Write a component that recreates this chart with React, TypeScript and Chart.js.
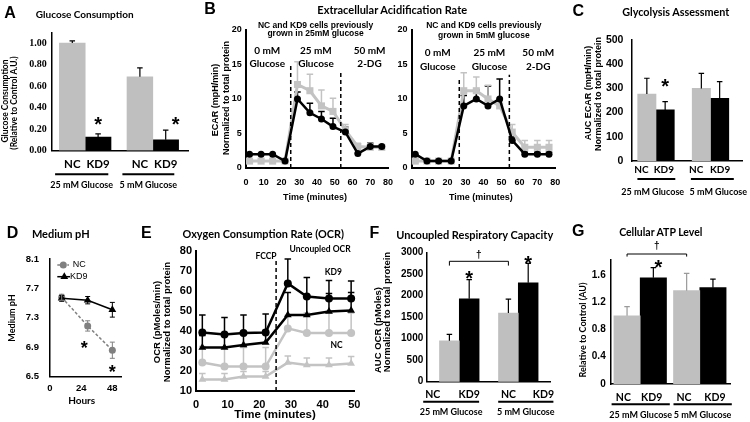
import React, { useEffect, useRef } from 'react';
import { Chart, registerables } from 'chart.js';

Chart.register(...registerables);

/* ===================== DATA ===================== */
const barGroups = ['25 mM Glucose', '5 mM Glucose'];
const seriesNames = ['NC', 'KD9'];

// A. Glucose consumption (relative to control A.U.)
const glucoseNC = [1.0, 0.686];
const glucoseNCErr = [0.02, 0.083];
const glucoseKD9 = [0.126, 0.1];
const glucoseKD9Err = [0.028, 0.09];
const glucoseTicks = [0, 0.2, 0.4, 0.6, 0.8, 1.0];

// B. Extracellular acidification rate (mpH/min)
const ecarTimes = [2, 8.5, 15, 22, 29, 36, 42.5, 49, 56, 63, 70, 76.5];
const ecarNC25 = [1.0, 1.0, 1.0, 1.0, 12.1, 11.2, 9.0, 8.2, 5.5, 3.1, 3.0, 3.0];
const ecarNC25Err = [0.3, 0.3, 0.3, 0.3, 3.3, 2.4, 2.3, 1.9, 0.8, 0.5, 0.5, 0.3];
const ecarKD925 = [2.0, 2.0, 2.0, 1.0, 10.0, 8.0, 7.1, 6.0, 5.2, 2.1, 3.1, 3.1];
const ecarKD925Err = [0, 0, 0, 0, 1.0, 1.4, 1.1, 1.2, 0.7, 0, 0.5, 0];
const ecarNC5 = [1.0, 1.0, 1.0, 1.0, 11.2, 11.2, 10.0, 9.0, 5.2, 3.0, 3.0, 3.0];
const ecarNC5Err = [0.3, 0.3, 0.3, 0.3, 2.6, 2.0, 2.0, 1.0, 1.1, 1.0, 1.0, 1.0];
const ecarKD95 = [2.0, 1.0, 1.0, 1.0, 9.0, 10.0, 9.0, 10.0, 4.0, 2.0, 2.0, 2.0];
const ecarKD95Err = [0, 0, 0, 0, 1.5, 1.3, 2.9, 2.9, 0.5, 0.3, 0.3, 0.3];
const ecarTicksY = [0, 5, 10, 15, 20];
const ecarTicksX = [0, 10, 20, 30, 40, 50, 60, 70, 80];
const ecarInjections25 = [25.2, 53.4];
const ecarInjections5 = [26.5, 54.4];
const ecarPhases = [['0 mM', 'Glucose'], ['25 mM', 'Glucose'], ['50 mM', '2-DG']];

// C. Glycolysis assessment (AUC ECAR)
const glycoNC = [277, 300];
const glycoNCErr = [65, 62];
const glycoKD9 = [211, 259];
const glycoKD9Err = [34, 69];
const glycoTicks = [0, 100, 200, 300, 400, 500];

// D. Medium pH
const phHours = [9, 29, 48];
const phNC = [7.58, 7.19, 6.86];
const phNCErr = [0.04, 0.07, 0.11];
const phKD9 = [7.565, 7.54, 7.41];
const phKD9Err = [0.04, 0.05, 0.1];
const phTicksY = [6.5, 6.9, 7.3, 7.7, 8.1];
const phTicksX = [0, 24, 48];

// E. Oxygen consumption rate (pMoles/min)
const ocrTimes = [2, 9, 15, 22, 29, 35, 42, 49];
const ocrKD9Circle = [39.2, 38.2, 39.0, 39.2, 63.8, 57.2, 56.3, 56.3];
const ocrKD9CircleErr = [8.8, 8.6, 9.0, 9.3, 12.2, 9.5, 8.9, 8.7];
const ocrKD9Triangle = [31.8, 31.8, 33.0, 34.2, 48.0, 48.0, 49.7, 50.2];
const ocrKD9TriangleErr = [6, 6, 6, 6, 11.2, 9, 9, 9];
const ocrNCCircle = [24.3, 22.2, 22.2, 22.2, 41.3, 39.0, 39.0, 39.0];
const ocrNCCircleErr = [8, 9.5, 9.5, 9.5, 6.5, 10, 10, 10];
const ocrNCTriangle = [15.8, 15.8, 17.2, 17.2, 24.2, 23.0, 23.0, 23.8];
const ocrNCTriangleErr = [3, 3, 2.5, 2.5, 3.3, 3.5, 3.5, 3.5];
const ocrFCCP = 25.3;
const ocrTicksY = [10, 20, 30, 40, 50, 60, 70, 80];
const ocrTicksX = [0, 10, 20, 30, 40, 50];

// F. Uncoupled respiratory capacity (AUC OCR)
const urcNC = [953, 1597];
const urcNCErr = [147, 325];
const urcKD9 = [1930, 2302];
const urcKD9Err = [442, 450];
const urcTicks = [0, 500, 1000, 1500, 2000, 2500, 3000];

// G. Cellular ATP level
const atpNC = [1.0, 1.37];
const atpNCErr = [0.135, 0.254];
const atpKD9 = [1.56, 1.414];
const atpKD9Err = [0.147, 0.126];
const atpTicks = [0, 0.4, 0.8, 1.2, 1.6];

/* ===================== STYLE / LAYOUT ===================== */
const W = 750;
const H = 422;
const FS = '"Liberation Sans", Arial, sans-serif';
const FC = 'Lato, "Open Sans", sans-serif';
const FT = '"Liberation Serif", "Times New Roman", serif';
const GRAY = '#bfbfbf';
const LGRAY = '#c3c3c3';
const DGRAY = '#808080';

type Lay = { l: number; t: number; r: number; b: number; g1?: number; g2?: number; bar?: number };

const layA: Lay = { l: 51.7, t: 32.3, r: 188.3, b: 150.5, g1: 85.2, g2: 152.8, bar: 25.8 };
const layB1: Lay = { l: 246, t: 30, r: 388, b: 168 };
const layB2: Lay = { l: 411.7, t: 30, r: 555.3, b: 168 };
const layC: Lay = { l: 631.7, t: 40, r: 742, b: 161, g1: 656, g2: 710.5, bar: 18.3 };
const layD: Lay = { l: 50, t: 259, r: 121.7, b: 376.7 };
const layE: Lay = { l: 196, t: 251, r: 354.3, b: 391 };
const layF: Lay = { l: 426.7, t: 252.7, r: 550.7, b: 381.7, g1: 459.3, g2: 518.3, bar: 19.8 };
const layG: Lay = { l: 610.7, t: 260, r: 730, b: 384, g1: 640.2, g2: 699.8, bar: 26.3 };

const padOf = (p: Lay) => ({ left: 0, top: p.t, right: W - p.r, bottom: 0 });

/* ===================== PLUGINS ===================== */
function errorBarsPlugin(o: { before?: boolean; both?: boolean; cap: number; width: number }) {
  const draw = (chart: any) => {
    const ctx = chart.ctx;
    const ys = chart.scales.y;
    ctx.save();
    chart.data.datasets.forEach((ds: any, di: number) => {
      if (!ds.errors) return;
      const meta = chart.getDatasetMeta(di);
      meta.data.forEach((el: any, i: number) => {
        const e = ds.errors[i];
        if (!e) return;
        const v = ds.data[i].y;
        const x = el.x;
        const top = ys.getPixelForValue(v + e);
        const bot = o.both ? ys.getPixelForValue(v - e) : el.y;
        ctx.strokeStyle = ds.errorColor || '#000';
        ctx.lineWidth = o.width;
        ctx.setLineDash([]);
        ctx.beginPath();
        ctx.moveTo(x, bot);
        ctx.lineTo(x, top);
        ctx.moveTo(x - o.cap / 2, top);
        ctx.lineTo(x + o.cap / 2, top);
        if (o.both) {
          ctx.moveTo(x - o.cap / 2, bot);
          ctx.lineTo(x + o.cap / 2, bot);
        }
        ctx.stroke();
      });
    });
    ctx.restore();
  };
  return {
    id: 'errorBars',
    beforeDatasetsDraw(chart: any) {
      if (o.before) draw(chart);
    },
    afterDatasetsDraw(chart: any) {
      if (!o.before) draw(chart);
    },
  };
}

function barLabelsPlugin(o: any) {
  return {
    id: 'barLabels',
    afterDraw(chart: any) {
      const ctx = chart.ctx;
      const bottom = chart.chartArea.bottom;
      ctx.save();
      ctx.fillStyle = '#000';
      ctx.strokeStyle = '#000';
      ctx.textAlign = 'center';
      ctx.textBaseline = 'middle';
      chart.data.labels.forEach((g: string, gi: number) => {
        let left = Infinity;
        let right = -Infinity;
        chart.data.datasets.forEach((ds: any, di: number) => {
          const el: any = chart.getDatasetMeta(di).data[gi];
          left = Math.min(left, el.x - el.width / 2);
          right = Math.max(right, el.x + el.width / 2);
          ctx.font = o.labelFont;
          const sh = o.shifts ? o.shifts[gi][di] : 0;
          ctx.fillText(ds.label, el.x + sh, bottom + o.labelDy);
        });
        const ul = left - o.pads[gi][0];
        const ur = right + o.pads[gi][1];
        ctx.lineWidth = o.lineWidth;
        ctx.beginPath();
        ctx.moveTo(ul, bottom + o.underlineDy);
        ctx.lineTo(ur, bottom + o.underlineDy);
        ctx.stroke();
        ctx.font = o.groupFont;
        const gs = o.groupShift ? o.groupShift[gi] : 0;
        ctx.fillText(g, (ul + ur) / 2 + gs, bottom + o.groupDy);
      });
      ctx.restore();
    },
  };
}

function drawMarker(ctx: any, style: string, x: number, y: number, r: number, color: string) {
  ctx.fillStyle = color;
  ctx.beginPath();
  if (style === 'triangle') {
    for (let k = 0; k < 3; k++) {
      const a = (k * 2 * Math.PI) / 3;
      const px = x + Math.sin(a) * r;
      const py = y - Math.cos(a) * r;
      if (k === 0) ctx.moveTo(px, py);
      else ctx.lineTo(px, py);
    }
    ctx.closePath();
  } else if (style === 'rect') {
    const s = r * Math.SQRT1_2;
    ctx.rect(x - s, y - s, 2 * s, 2 * s);
  } else {
    ctx.arc(x, y, r, 0, Math.PI * 2);
  }
  ctx.fill();
}

function annotPlugin(items: any[]) {
  return {
    id: 'annot',
    afterDraw(chart: any) {
      const ctx = chart.ctx;
      const xs = chart.scales.x;
      const ys = chart.scales.y;
      const ca = chart.chartArea;
      const barX = (r: number[]) => chart.getDatasetMeta(r[0]).data[r[1]].x;
      ctx.save();
      for (const it of items) {
        const col = it.color || '#000';
        ctx.fillStyle = col;
        ctx.strokeStyle = col;
        ctx.setLineDash([]);
        if (it.type === 'text') {
          const x = (it.bar ? barX(it.bar) : xs.getPixelForValue(it.x)) + (it.dx || 0);
          const y = ys.getPixelForValue(it.y);
          ctx.font = it.font;
          ctx.textAlign = it.align || 'center';
          if (it.vc != null) {
            ctx.textBaseline = 'alphabetic';
            ctx.fillText(it.text, x, y + it.vc);
          } else {
            ctx.textBaseline = 'middle';
            ctx.fillText(it.text, x, y);
          }
        } else if (it.type === 'vline') {
          const x = xs.getPixelForValue(it.x);
          ctx.lineWidth = it.width;
          ctx.setLineDash(it.dash);
          ctx.beginPath();
          ctx.moveTo(x, ys.getPixelForValue(it.y0));
          ctx.lineTo(x, ys.getPixelForValue(it.y1));
          ctx.stroke();
        } else if (it.type === 'bracket') {
          const x0 = barX(it.from);
          const x1 = barX(it.to);
          const y = ys.getPixelForValue(it.y);
          const yd = ys.getPixelForValue(it.yDrop);
          ctx.lineWidth = it.width;
          ctx.beginPath();
          ctx.moveTo(x0, yd);
          ctx.lineTo(x0, y);
          ctx.lineTo(x1, y);
          ctx.lineTo(x1, yd);
          ctx.stroke();
          ctx.font = it.font;
          ctx.textAlign = 'center';
          ctx.textBaseline = 'alphabetic';
          ctx.fillText(it.text, (x0 + x1) / 2, ys.getPixelForValue(it.textY) + it.vc);
        } else if (it.type === 'legend') {
          const ds = chart.data.datasets[it.ds];
          const y = ca.top + it.dy;
          ctx.strokeStyle = ds.borderColor;
          ctx.lineWidth = ds.borderWidth;
          ctx.setLineDash(ds.borderDash || []);
          ctx.beginPath();
          ctx.moveTo(ca.left + it.x0, y);
          ctx.lineTo(ca.left + it.x1, y);
          ctx.stroke();
          ctx.setLineDash([]);
          drawMarker(ctx, ds.pointStyle, ca.left + it.mx, y, ds.pointRadius, ds.pointBackgroundColor);
          ctx.fillStyle = '#000';
          ctx.font = it.font;
          ctx.textAlign = 'left';
          ctx.textBaseline = 'middle';
          ctx.fillText(ds.label, ca.left + it.tx, y);
        }
      }
      ctx.restore();
    },
  };
}

/* ===================== HELPERS ===================== */
const bold = (family: string, size: number) => ({ family, size, weight: 'bold' as const });

function axis(dir: 'x' | 'y', lay: Lay, o: any) {
  return {
    type: 'linear',
    position: dir === 'x' ? 'bottom' : 'left',
    min: o.min,
    max: o.max,
    offset: false,
    afterBuildTicks: (s: any) => {
      if (o.ticks) s.ticks = o.ticks.map((v: number) => ({ value: v }));
    },
    afterFit: (s: any) => {
      if (dir === 'x') s.height = H - lay.b;
      else s.width = lay.l;
    },
    ticks: {
      display: o.ticks != null,
      font: o.font,
      color: '#000',
      padding: o.padding || 0,
      autoSkip: false,
      maxRotation: 0,
      minRotation: 0,
      callback: (v: any) => (o.fmt ? o.fmt(Number(v)) : String(v)),
    },
    grid: { display: false, drawOnChartArea: false, drawTicks: false },
    border: { display: true, color: '#000', width: o.border || 1.5 },
  };
}

const baseOptions = (lay: Lay) => ({
  responsive: false,
  animation: false as const,
  devicePixelRatio: 1,
  events: [] as any[],
  layout: { padding: padOf(lay) },
  plugins: { legend: { display: false }, tooltip: { enabled: false }, title: { display: false } },
});

const star = (y: number, ref?: number[], x?: number, dx = 0, size = 20) => ({
  type: 'text',
  bar: ref,
  x,
  y,
  dx,
  text: '*',
  font: `bold ${size}px ${FS}`,
  vc: 0.58 * size,
});

function barChart(p: any) {
  const lay: Lay = p.lay;
  const unit = (lay.g2 as number) - (lay.g1 as number);
  const xmin = 1 - ((lay.g1 as number) - lay.l) / unit;
  const xmax = 2 + (lay.r - (lay.g2 as number)) / unit;
  const mk = (label: string, vals: number[], errs: number[], color: string, errColor: string) => ({
    label,
    data: vals.map((v, i) => ({ x: i + 1, y: v })),
    backgroundColor: color,
    borderWidth: 0,
    barThickness: lay.bar,
    errors: errs,
    errorColor: errColor,
  });
  return {
    type: 'bar',
    data: {
      labels: barGroups,
      datasets: [
        mk(seriesNames[0], p.nc, p.ncErr, GRAY, p.ncErrColor),
        mk(seriesNames[1], p.kd, p.kdErr, '#000', '#000'),
      ],
    },
    options: {
      ...baseOptions(lay),
      scales: {
        x: axis('x', lay, { min: xmin, max: xmax, border: p.border }),
        y: axis('y', lay, { ...p.y, border: p.border }),
      },
    },
    plugins: [
      errorBarsPlugin({ cap: p.cap || 5.5, width: 1.2 }),
      barLabelsPlugin(p.labels),
      annotPlugin(p.annot || []),
    ],
  };
}

function lineDs(label: string, xs: number[], ys: number[], errs: number[], o: any) {
  return {
    label,
    data: xs.map((x, i) => ({ x, y: ys[i] })),
    errors: errs,
    errorColor: o.errColor || o.color,
    borderColor: o.color,
    backgroundColor: o.color,
    borderWidth: o.lw,
    borderDash: o.dash || [],
    pointStyle: o.point,
    pointRadius: o.r,
    pointBackgroundColor: o.color,
    pointBorderColor: o.color,
    pointBorderWidth: 0,
    tension: 0,
    clip: false,
  };
}

function lineChart(lay: Lay, datasets: any[], x: any, y: any, plugins: any[]) {
  return {
    type: 'line',
    data: { datasets },
    options: { ...baseOptions(lay), scales: { x: axis('x', lay, x), y: axis('y', lay, y) } },
    plugins,
  };
}

/* ===================== CHART CONFIGS ===================== */
function makeConfigs() {
  const cfgs: any[] = [];

  // A
  cfgs.push(
    barChart({
      lay: layA,
      nc: glucoseNC, ncErr: glucoseNCErr, kd: glucoseKD9, kdErr: glucoseKD9Err, ncErrColor: '#000',
      y: { min: 0, max: 1.1, ticks: glucoseTicks, fmt: (v: number) => v.toFixed(2), font: bold(FT, 10), padding: 5 },
      labels: {
        labelDy: 13.8, underlineDy: 23.8, groupDy: 34.5, pads: [[4.3, -2.7], [4.6, -4.3]],
        labelFont: `bold 11.5px ${FC}`, groupFont: `bold 9px ${FC}`, lineWidth: 2,
      },
      annot: [star(0.287, [1, 0]), star(0.287, [1, 1], undefined, 10)],
    })
  );

  // B (two panels)
  const ecarPanel = (lay: Lay, nc: number[], ncE: number[], kd: number[], kdE: number[], inj: number[], injTop: number[], txt: any) =>
    lineChart(
      lay,
      [
        lineDs('KD9', ecarTimes, kd, kdE, { color: '#000', lw: 2.5, point: 'circle', r: 3.5 }),
        lineDs('NC', ecarTimes, nc, ncE, { color: LGRAY, lw: 3, point: 'rect', r: 5 }),
      ],
      { min: 0, max: 80, ticks: ecarTicksX, font: bold(FS, 9), padding: 9, border: 2 },
      { min: 0, max: 20, ticks: ecarTicksY, font: bold(FS, 9), padding: 4.3, border: 2 },
      [
        errorBarsPlugin({ before: true, cap: 6.5, width: 1.5 }),
        annotPlugin([
          { type: 'vline', x: inj[0], y0: 0, y1: injTop[0], dash: [4, 3], width: 1.5 },
          { type: 'vline', x: inj[1], y0: 0, y1: injTop[1], dash: [4, 3], width: 1.5 },
          { type: 'text', x: txt.tx, y: txt.ty[0], text: 'NC and KD9 cells previously', font: `bold 8.5px ${FS}` },
          { type: 'text', x: txt.tx, y: txt.ty[1], text: txt.grown, font: `bold 8.5px ${FS}` },
          ...ecarPhases.flatMap((ph, i) => [
            { type: 'text', x: txt.px[i], y: txt.py[0], text: ph[0], font: `bold 10px ${FC}` },
            { type: 'text', x: txt.px[i], y: txt.py[1], text: ph[1], font: `bold 10px ${FC}` },
          ]),
        ]),
      ]
    );
  cfgs.push(
    ecarPanel(layB1, ecarNC25, ecarNC25Err, ecarKD925, ecarKD925Err, ecarInjections25, [14.9, 13.8], {
      tx: 39.2, ty: [20.7, 19.4], grown: 'grown in 25mM glucose', px: [12.0, 39.4, 69.6], py: [17.0, 15.1],
    })
  );
  cfgs.push(
    ecarPanel(layB2, ecarNC5, ecarNC5Err, ecarKD95, ecarKD95Err, ecarInjections5, [13.2, 13.5], {
      tx: 40.2, ty: [20.7, 19.2], grown: 'grown in 5mM glucose', px: [14.5, 43.3, 70.5], py: [16.7, 14.7],
    })
  );

  // C
  cfgs.push(
    barChart({
      lay: layC,
      nc: glycoNC, ncErr: glycoNCErr, kd: glycoKD9, kdErr: glycoKD9Err, ncErrColor: '#000',
      y: { min: 0, max: 500, ticks: glycoTicks, fmt: (v: number) => String(v), font: bold(FS, 10.5), padding: 8.3 },
      labels: {
        labelDy: 9, underlineDy: 18, groupDy: 31, pads: [[0.3, 1], [1.3, 5]], shifts: [[-5.4, -1.3], [-5.2, 0.5]],
        groupShift: [-3.6, 6],
        labelFont: `bold 10px ${FC}`, groupFont: `bold 9px ${FC}`, lineWidth: 2,
      },
      annot: [star(328, [1, 0])],
    })
  );

  // D
  cfgs.push(
    lineChart(
      layD,
      [
        lineDs('KD9', phHours, phKD9, phKD9Err, { color: '#000', lw: 1.5, point: 'triangle', r: 4.5 }),
        lineDs('NC', phHours, phNC, phNCErr, { color: DGRAY, lw: 1.5, point: 'circle', r: 3.5, dash: [3, 2] }),
      ],
      { min: 0, max: 55.2, ticks: phTicksX, font: bold(FS, 9.5), padding: 6, border: 1.5 },
      { min: 6.5, max: 8.1, ticks: phTicksY, fmt: (v: number) => v.toFixed(1), font: bold(FS, 9.5), padding: 11, border: 1.5 },
      [
        errorBarsPlugin({ both: true, cap: 5, width: 1 }),
        annotPlugin([
          star(6.954, undefined, 26.4, 0, 18),
          star(6.62, undefined, 48, 0, 18),
          { type: 'legend', ds: 1, dy: 6, x0: 7.3, x1: 19, mx: 13.3, tx: 22.7, font: `9px ${FS}` },
          { type: 'legend', ds: 0, dy: 17.7, x0: 7.3, x1: 20, mx: 14.3, tx: 20, font: `9px ${FS}` },
        ]),
      ]
    )
  );

  // E
  cfgs.push(
    lineChart(
      layE,
      [
        lineDs('KD9', ocrTimes, ocrKD9Circle, ocrKD9CircleErr, { color: '#000', lw: 2.5, point: 'circle', r: 4 }),
        lineDs('KD9', ocrTimes, ocrKD9Triangle, ocrKD9TriangleErr, { color: '#000', lw: 2.5, point: 'triangle', r: 4.5 }),
        lineDs('NC', ocrTimes, ocrNCCircle, ocrNCCircleErr, { color: LGRAY, lw: 2.5, point: 'circle', r: 4 }),
        lineDs('NC', ocrTimes, ocrNCTriangle, ocrNCTriangleErr, { color: LGRAY, lw: 2.5, point: 'triangle', r: 4.5 }),
      ],
      { min: 0, max: 50, ticks: ocrTicksX, font: bold(FS, 11), padding: 6.9, border: 2 },
      { min: 10, max: 80, ticks: ocrTicksY, font: bold(FS, 11), padding: 4, border: 2 },
      [
        errorBarsPlugin({ before: true, cap: 6.5, width: 1.5 }),
        annotPlugin([
          { type: 'vline', x: ocrFCCP, y0: 10, y1: 75.5, dash: [4, 3], width: 1.5 },
          { type: 'text', x: 22.1, y: 77.2, text: 'FCCP', font: `bold 8.5px ${FC}` },
          { type: 'text', x: 39.2, y: 80.9, text: 'Uncoupled OCR', font: `bold 8.5px ${FC}` },
          { type: 'text', x: 43.4, y: 69.2, text: 'KD9', font: `bold 8.5px ${FC}` },
          { type: 'text', x: 44.4, y: 33, text: 'NC', font: `bold 8.5px ${FC}` },
        ]),
      ]
    )
  );

  // F
  cfgs.push(
    barChart({
      lay: layF,
      nc: urcNC, ncErr: urcNCErr, kd: urcKD9, kdErr: urcKD9Err, ncErrColor: '#000',
      y: { min: 0, max: 3000, ticks: urcTicks, fmt: (v: number) => String(v), font: bold(FS, 10), padding: 3.4 },
      labels: {
        labelDy: 12.8, underlineDy: 20, groupDy: 30.8, pads: [[16.3, 0], [0.3, 15.3]], shifts: [[-16.6, 0], [0, 15.3]],
        labelFont: `bold 10.5px ${FC}`, groupFont: `bold 9px ${FC}`, lineWidth: 2,
      },
      annot: [
        star(2521, [1, 0]),
        star(2870, [1, 1]),
        { type: 'bracket', from: [0, 0], to: [0, 1], y: 2800, yDrop: 2700, width: 1, text: '\u2020', textY: 2946, font: `bold 10px ${FS}`, vc: 3 },
      ],
    })
  );

  // G
  cfgs.push(
    barChart({
      lay: layG,
      nc: atpNC, ncErr: atpNCErr, kd: atpKD9, kdErr: atpKD9Err, ncErrColor: '#9a9a9a',
      y: { min: 0, max: 1.82, ticks: atpTicks, fmt: (v: number) => (v === 0 ? '0' : v.toFixed(1)), font: bold(FS, 10), padding: 5 },
      labels: {
        labelDy: 13.8, underlineDy: 20.3, groupDy: 31.3, pads: [[2.3, 3.3], [0, 5.7]], shifts: [[-3.7, -1.6], [-2.7, 2]],
        labelFont: `bold 10.5px ${FC}`, groupFont: `bold 9px ${FC}`, lineWidth: 2,
      },
      annot: [
        star(1.786, [1, 0], undefined, 5),
        { type: 'bracket', from: [0, 0], to: [0, 1], y: 1.908, yDrop: 1.87, width: 1, text: '\u2020', textY: 2.03, font: `bold 10px ${FS}`, vc: 3 },
      ],
    })
  );

  return cfgs;
}

/* ===================== HTML TEXT ===================== */
type Txt = { t: string; x: number; y: number; s: number; f?: string; w?: number; rot?: boolean };

const letters: Txt[] = [
  { t: 'A', x: 10, y: 12.5, s: 16, f: FS },
  { t: 'B', x: 210, y: 9, s: 16, f: FS },
  { t: 'C', x: 578.3, y: 10.8, s: 16, f: FS },
  { t: 'D', x: 12.5, y: 232.5, s: 16, f: FS },
  { t: 'E', x: 146.3, y: 232.5, s: 16, f: FS },
  { t: 'F', x: 374.5, y: 233, s: 16, f: FS },
  { t: 'G', x: 578.3, y: 231, s: 16, f: FS },
];

const titles: Txt[] = [
  { t: 'Glucose Consumption', x: 84.7, y: 14, s: 10 },
  { t: 'Extracellular Acidification Rate', x: 392.2, y: 9, s: 11 },
  { t: 'Glycolysis Assessment', x: 675.8, y: 11.5, s: 10.8 },
  { t: 'Medium pH', x: 60.8, y: 232.5, s: 11 },
  { t: 'Oxygen Consumption Rate (OCR)', x: 263.3, y: 233.5, s: 10.9 },
  { t: 'Uncoupled Respiratory Capacity', x: 474.7, y: 233.5, s: 11 },
  { t: 'Cellular ATP Level', x: 660.8, y: 231.7, s: 10.5 },
];

const axisTitles: Txt[] = [
  { t: 'Glucose Consumption', x: 5, y: 101, s: 8.5, rot: true },
  { t: '(Relative to Control A.U.)', x: 13.7, y: 103, s: 8.5, rot: true },
  { t: 'ECAR (mpH/min)', x: 215, y: 100, s: 9, f: FS, rot: true },
  { t: 'Normalized to total protein', x: 225.5, y: 98.3, s: 9, f: FS, rot: true },
  { t: 'Time (minutes)', x: 315, y: 196.7, s: 9, f: FS },
  { t: 'Time (minutes)', x: 480.8, y: 196.7, s: 9, f: FS },
  { t: 'AUC ECAR (mpH/min)', x: 588, y: 93, s: 9, f: FS, rot: true },
  { t: 'Normalized to total protein', x: 597.5, y: 94, s: 9, f: FS, rot: true },
  { t: 'Medium pH', x: 11, y: 317.5, s: 9, rot: true },
  { t: 'Hours', x: 81.7, y: 400, s: 10 },
  { t: 'OCR (pMoles/min)', x: 156.7, y: 321.7, s: 9.5, f: FS, rot: true },
  { t: 'Normalized to total protein', x: 166.7, y: 321.7, s: 9.5, f: FS, rot: true },
  { t: 'Time (minutes)', x: 275, y: 415, s: 11.5, f: FS },
  { t: 'AUC OCR (pMoles)', x: 377.5, y: 330, s: 9.5, f: FS, rot: true },
  { t: 'Normalized to total protein', x: 387, y: 311.7, s: 9.5, f: FS, rot: true },
  { t: 'Relative to Control (AU)', x: 581.7, y: 330, s: 9, rot: true },
];

function Label({ d }: { d: Txt }) {
  return (
    <div
      style={{
        position: 'absolute',
        left: d.x,
        top: d.y,
        transform: `translate(-50%, -50%)${d.rot ? ' rotate(-90deg)' : ''}`,
        fontFamily: d.f || FC,
        fontSize: d.s,
        fontWeight: d.w ?? 700,
        whiteSpace: 'nowrap',
        lineHeight: 1,
        color: '#000',
      }}
    >
      {d.t}
    </div>
  );
}

function ChartLayer({ config }: { config: any }) {
  const ref = useRef<HTMLCanvasElement | null>(null);
  useEffect(() => {
    if (!ref.current) return;
    const chart = new Chart(ref.current, config);
    return () => chart.destroy();
  }, [config]);
  return <canvas ref={ref} width={W} height={H} style={{ position: 'absolute', left: 0, top: 0, width: W, height: H }} />;
}

const configs = makeConfigs();

export default function App() {
  return (
    <div style={{ position: 'absolute', left: 0, top: 0, width: W, height: H, background: '#fff', overflow: 'hidden' }}>
      {configs.map((c, i) => (
        <ChartLayer key={i} config={c} />
      ))}
      {[...letters, ...titles, ...axisTitles].map((d, i) => (
        <Label key={i} d={d} />
      ))}
    </div>
  );
}
